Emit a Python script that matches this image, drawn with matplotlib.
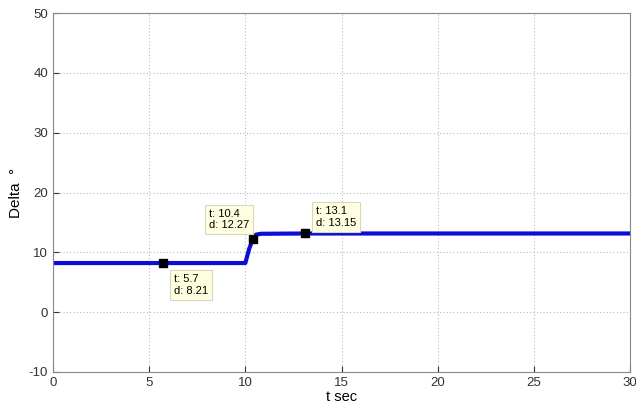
import matplotlib
matplotlib.use("Agg")
import matplotlib.pyplot as plt

# response of rotor angle
t = [0, 5.7, 10.0, 10.2, 10.4, 10.55, 10.8, 13.1, 20, 30]
delta = [8.21, 8.21, 8.21, 10.6, 12.27, 12.95, 13.1, 13.15, 13.15, 13.15]

# data tips
tip_t = [5.7, 10.4, 13.1]
tip_d = [8.21, 12.27, 13.15]
tip_txt = ["t: 5.7\nd: 8.21", "t: 10.4\nd: 12.27", "t: 13.1\nd: 13.15"]
tip_off = [(8, -8), (-3, 6), (8, 4)]
tip_ha = ["left", "right", "left"]
tip_va = ["top", "bottom", "bottom"]

plt.rcParams['font.family'] = ['Liberation Sans', 'DejaVu Sans']
plt.rcParams['axes.unicode_minus'] = False

fig = plt.figure(figsize=(6.36, 4.03), dpi=100)
ax = fig.add_axes([53 / 636, 31 / 403, 577 / 636, 359 / 403])

ax.plot(t, delta, color=(0.05, 0.05, 0.85), linewidth=3)
ax.plot(tip_t, tip_d, 's', color='black', markersize=6, linestyle='none')

for i in range(len(tip_t)):
    ax.annotate(tip_txt[i], (tip_t[i], tip_d[i]), xytext=tip_off[i],
                textcoords='offset points', ha=tip_ha[i], va=tip_va[i],
                multialignment='left', fontsize=8, linespacing=1.2,
                bbox=dict(boxstyle='square,pad=0.35', fc='#ffffe0', ec='#d8d8c0', lw=0.8))

ax.set_xlim(0, 30)
ax.set_ylim(-10, 50)
ax.set_xticks([0, 5, 10, 15, 20, 25, 30])
ax.set_yticks([-10, 0, 10, 20, 30, 40, 50])
ax.grid(True, linestyle=(0, (1, 2)), color='#bbbbbb', linewidth=0.8)
ax.tick_params(direction='in', labelsize=9.5, colors='#333333', length=4)
for s in ax.spines.values():
    s.set_color('#888888')

ax.set_xlabel('t sec', fontsize=10.5, labelpad=1)
ax.set_ylabel('Delta  °', fontsize=11, labelpad=4)

fig.savefig('out.png', dpi=100)
